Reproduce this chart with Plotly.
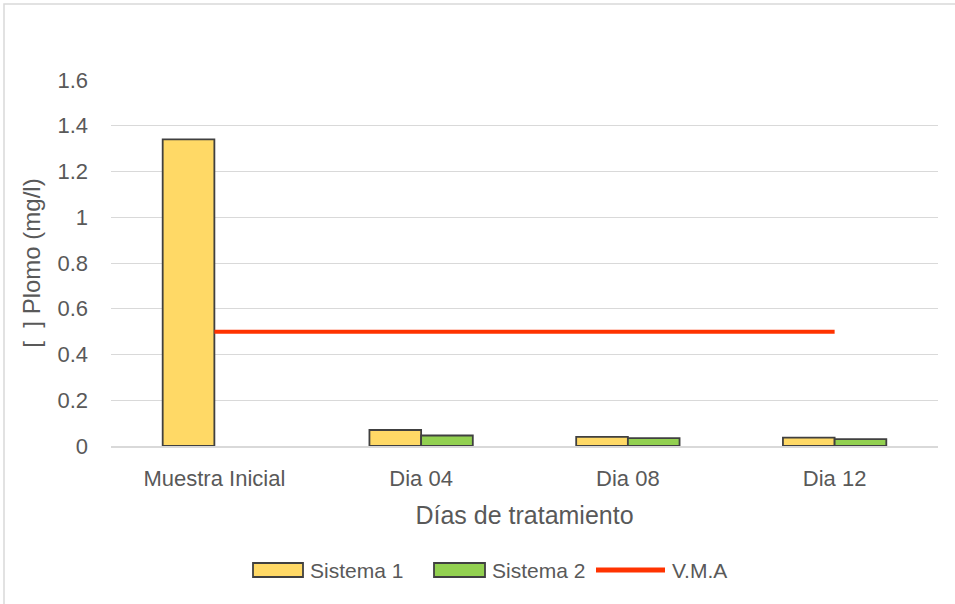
import plotly.graph_objects as go

categories = ["Muestra Inicial", "Dia 04", "Dia 08", "Dia 12"]
sistema1 = [1.34, 0.07, 0.04, 0.037]
sistema2 = [None, 0.046, 0.034, 0.030]
vma = [0.5, 0.5, 0.5, 0.5]
y_ticks = [0, 0.2, 0.4, 0.6, 0.8, 1.0, 1.2, 1.4, 1.6]
series_names = ["Sistema 1", "Sistema 2", "V.M.A"]

FONT = "Liberation Sans"
GRAY = "#595959"
C1, C2, C3 = "#FFD966", "#92D050", "#FF3300"
EDGE = "#404040"

fig = go.Figure()
fig.add_trace(go.Bar(name=series_names[0], x=categories, y=sistema1, showlegend=False,
                     marker=dict(color=C1, line=dict(color=EDGE, width=1.8))))
fig.add_trace(go.Bar(name=series_names[1], x=categories, y=sistema2, showlegend=False,
                     marker=dict(color=C2, line=dict(color=EDGE, width=1.8))))
fig.add_trace(go.Scatter(name=series_names[2], x=categories, y=vma, mode="lines", showlegend=False,
                         line=dict(color=C3, width=4)))

L, R, T, B = 111, 17, 80, 158
W, H = 955, 604
pw, ph = W - L - R, H - T - B

def px(x):
    return (x - L) / pw

def py(y):
    return (H - B - y) / ph

fig.update_layout(
    width=W, height=H,
    margin=dict(l=L, r=R, t=T, b=B),
    paper_bgcolor="white", plot_bgcolor="white",
    barmode="group", bargap=0.5, bargroupgap=0,
    font=dict(family=FONT, color=GRAY, size=22),
    showlegend=False,
)
fig.update_xaxes(
    showgrid=False, showline=True, linecolor="#D9D9D9", linewidth=1.5,
    ticks="", ticklabelstandoff=12, tickfont=dict(size=22, color=GRAY),
    title=dict(text="Días de tratamiento", font=dict(size=25, color=GRAY), standoff=16),
)
fig.update_yaxes(
    range=[0, 1.6], tickvals=y_ticks, ticktext=[f"{v:g}" for v in y_ticks],
    showgrid=True, gridcolor="#D9D9D9", gridwidth=1.2, zeroline=False,
    showline=False, ticks="", ticklabelstandoff=22,
    tickfont=dict(size=22, color=GRAY),
    title=dict(text="[  ] Plomo (mg/l)", font=dict(size=24, color=GRAY), standoff=10),
)

# outer chart frame
fig.add_shape(type="rect", xref="paper", yref="paper",
              x0=px(4), x1=px(W + 5), y0=py(H + 5), y1=py(4),
              line=dict(color="#D9D9D9", width=1.5), fillcolor="rgba(0,0,0,0)",
              layer="below")

# legend (drawn to match wide Excel-style swatches)
ly = 570
fig.add_shape(type="rect", xref="paper", yref="paper",
              x0=px(253), x1=px(303), y0=py(577), y1=py(563),
              fillcolor=C1, line=dict(color=EDGE, width=1.8))
fig.add_shape(type="rect", xref="paper", yref="paper",
              x0=px(434), x1=px(485), y0=py(577), y1=py(563),
              fillcolor=C2, line=dict(color=EDGE, width=1.8))
fig.add_shape(type="line", xref="paper", yref="paper",
              x0=px(596), x1=px(665), y0=py(ly), y1=py(ly),
              line=dict(color=C3, width=5))
for name, x in zip(series_names, [308, 490, 670]):
    fig.add_annotation(text=name, xref="paper", yref="paper", x=px(x), y=py(ly),
                       xanchor="left", yanchor="middle", showarrow=False,
                       font=dict(size=21, color=GRAY))

fig.write_html("out.html", config={"displayModeBar": False},
               post_script="document.body.style.margin='0';document.body.style.overflow='hidden';")
